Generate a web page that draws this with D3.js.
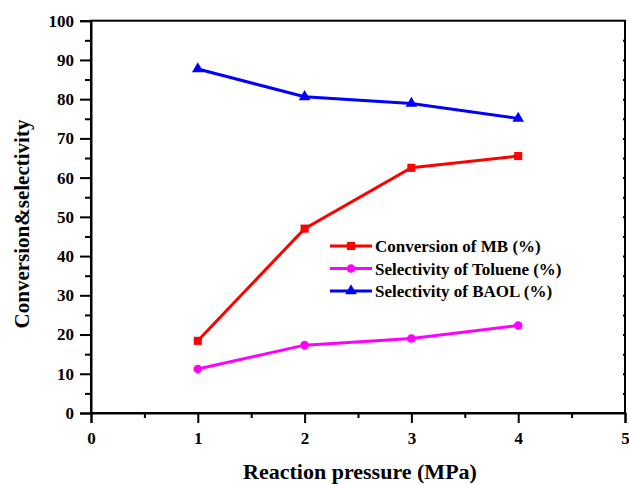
<!DOCTYPE html>
<html>
<head>
<meta charset="utf-8">
<script src="https://cdn.jsdelivr.net/npm/d3@7"></script>
<style>
  body { margin: 0; background: #fff; }
  svg text { font-family: "Liberation Serif", "Times New Roman", serif; font-weight: bold; }
</style>
</head>
<body>
<svg id="chart" width="629" height="484"></svg>
<script>
let pressure    = [1, 2, 3, 4];
let conversion  = [18.4, 47.0, 62.5, 65.5];
let toluene     = [11.2, 17.3, 19.0, 22.3];
let baol        = [87.7, 80.6, 78.9, 75.1];
let seriesNames = ["Conversion of MB (%)", "Selectivity of Toluene (%)", "Selectivity of BAOL (%)"];
let seriesColors = ["#ff0000", "#ff00ff", "#0000ff"];
let xTicks = [0, 1, 2, 3, 4, 5];
let yTicks = [0, 10, 20, 30, 40, 50, 60, 70, 80, 90, 100];

let pLeft = 91, pRight = 625, pTop = 20.7, pBottom = 413;
let svg = d3.select("#chart");

let x = d3.scaleLinear().domain([0, 5]).range([pLeft, pRight]);
let y = d3.scaleLinear().domain([0, 100]).range([pBottom, pTop]);

// minor ticks
svg.append("g")
  .attr("transform", "translate(0," + pBottom + ")")
  .call(d3.axisBottom(x).tickValues(d3.range(0.5, 5, 1)).tickSize(5).tickFormat(""))
  .call(g => g.select(".domain").remove());
svg.append("g")
  .attr("transform", "translate(" + pLeft + ",0)")
  .call(d3.axisLeft(y).tickValues(d3.range(5, 100, 10)).tickSize(6).tickFormat(""))
  .call(g => g.select(".domain").remove());

// right axis small inward ticks
svg.append("g")
  .attr("transform", "translate(" + pRight + ",0)")
  .call(d3.axisLeft(y).tickValues(d3.range(5, 100, 5)).tickSize(2).tickFormat(""))
  .call(g => g.select(".domain").remove());

let xAxis = svg.append("g")
  .attr("transform", "translate(0," + pBottom + ")")
  .call(d3.axisBottom(x).tickValues(xTicks).tickSize(10).tickPadding(9).tickFormat(d3.format("d")));
xAxis.selectAll("text").attr("font-size", 17).attr("fill", "#000");

let yAxis = svg.append("g")
  .attr("transform", "translate(" + pLeft + ",0)")
  .call(d3.axisLeft(y).tickValues(yTicks).tickSize(11).tickPadding(6).tickFormat(d3.format("d")));
yAxis.selectAll("text").attr("font-size", 17).attr("fill", "#000");

svg.selectAll(".tick line").attr("stroke", "#000").attr("stroke-width", 2);
svg.selectAll(".domain").attr("stroke", "#000").attr("stroke-width", 2);

// frame
svg.append("rect")
  .attr("x", pLeft).attr("y", pTop)
  .attr("width", pRight - pLeft).attr("height", pBottom - pTop)
  .attr("fill", "none").attr("stroke", "#000").attr("stroke-width", 2);

svg.append("text")
  .attr("x", 360).attr("y", 479)
  .attr("text-anchor", "middle").attr("font-size", 22)
  .text("Reaction pressure (MPa)");

svg.append("text")
  .attr("transform", "translate(29,224) rotate(-90)")
  .attr("text-anchor", "middle").attr("font-size", 21)
  .text("Conversion&selectivity");

let line = d3.line()
  .x(function(d, i) { return x(pressure[i]); })
  .y(function(d) { return y(d); });

let allSeries = [conversion, toluene, baol];
let symbols = [d3.symbolSquare, d3.symbolCircle, d3.symbolTriangle];
let symSizes = [66, 58, 58];

allSeries.forEach(function(data, s) {
  svg.append("path")
    .attr("fill", "none")
    .attr("stroke", seriesColors[s])
    .attr("stroke-width", 3)
    .attr("d", line(data));
  svg.selectAll(".m" + s)
    .data(data)
    .enter().append("path")
    .attr("transform", function(d, i) { return "translate(" + x(pressure[i]) + "," + y(d) + ")"; })
    .attr("d", d3.symbol().type(symbols[s]).size(symSizes[s]))
    .attr("fill", seriesColors[s]);
});

// legend
let legend = svg.append("g");
seriesNames.forEach(function(name, s) {
  let ly = 246 + s * 22.5;
  legend.append("line")
    .attr("x1", 330).attr("x2", 372).attr("y1", ly).attr("y2", ly)
    .attr("stroke", seriesColors[s]).attr("stroke-width", 3);
  legend.append("path")
    .attr("transform", "translate(351," + ly + ")")
    .attr("d", d3.symbol().type(symbols[s]).size(symSizes[s]))
    .attr("fill", seriesColors[s]);
  legend.append("text")
    .attr("x", 375).attr("y", ly + 6)
    .attr("font-size", 17)
    .text(name);
});
</script>
</body>
</html>
